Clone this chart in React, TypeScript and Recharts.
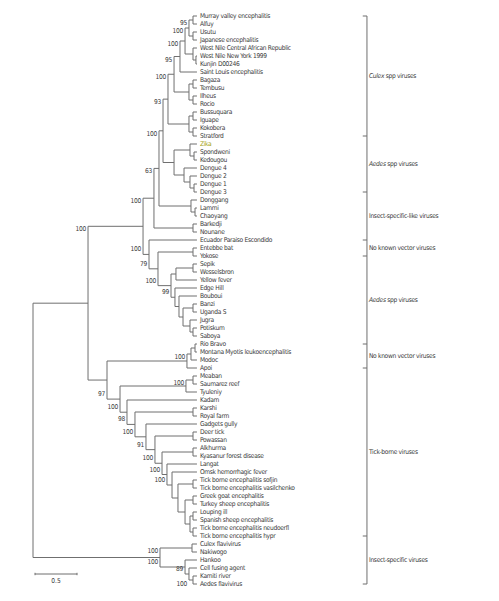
import { ComposedChart, XAxis, YAxis, ReferenceLine, Scatter } from 'recharts'

// leaf order, top to bottom
const leaves = [
  'Murray valley encephalitis', 'Alfuy', 'Usutu', 'Japanese encephalitis',
  'West Nile Central African Republic', 'West Nile New York 1999', 'Kunjin D00246',
  'Saint Louis encephalitis', 'Bagaza', 'Tembusu', 'Ilheus', 'Rocio', 'Bussuquara',
  'Iguape', 'Kokobera', 'Stratford', 'Zika', 'Spondweni', 'Kedougou', 'Dengue 4',
  'Dengue 2', 'Dengue 1', 'Dengue 3', 'Donggang', 'Lammi', 'Chaoyang', 'Barkedji',
  'Nounane', 'Ecuador Paraiso Escondido', 'Entebbe bat', 'Yokose', 'Sepik',
  'Wesselsbron', 'Yellow fever', 'Edge Hill', 'Bouboui', 'Banzi', 'Uganda S', 'Jugra',
  'Potiskum', 'Saboya', 'Rio Bravo', 'Montana Myotis leukoencephalitis', 'Modoc', 'Apoi',
  'Meaban', 'Saumarez reef', 'Tyuleniy', 'Kadam', 'Karshi', 'Royal farm', 'Gadgets gully',
  'Deer tick', 'Powassan', 'Alkhurma', 'Kyasanur forest disease', 'Langat',
  'Omsk hemorrhagic fever', 'Tick borne encephalitis sofjin',
  'Tick borne encephalitis vasilchenko', 'Greek goat encephalitis',
  'Turkey sheep encephalitis', 'Louping ill', 'Spanish sheep encephalitis',
  'Tick borne encephalitis neudoerfl', 'Tick borne encephalitis hypr', 'Culex flavivirus',
  'Nakiwogo', 'Hankoo', 'Cell fusing agent', 'Kamiti river', 'Aedes flavivirus',
]

// distance of the leaf tips from the root
const tipDepth = 1.952

// clade id, upper child, lower child, distance from root, bootstrap support
const clades: [string, string, string, number, number | null][] = [
  ['mva', 'Murray valley encephalitis', 'Alfuy', 1.905, 95],
  ['uje', 'Usutu', 'Japanese encephalitis', 1.905, null],
  ['je', 'mva', 'uje', 1.857, 100],
  ['wn1', 'West Nile New York 1999', 'Kunjin D00246', 1.94, null],
  ['wn', 'West Nile Central African Republic', 'wn1', 1.905, null],
  ['jewn', 'je', 'wn', 1.81, 100],
  ['jes', 'jewn', 'Saint Louis encephalitis', 1.75, 95],
  ['bt', 'Bagaza', 'Tembusu', 1.905, null],
  ['ir', 'Ilheus', 'Rocio', 1.905, null],
  ['ntaya', 'bt', 'ir', 1.857, null],
  ['cx1', 'jes', 'ntaya', 1.679, 100],
  ['bi', 'Bussuquara', 'Iguape', 1.905, null],
  ['ks', 'Kokobera', 'Stratford', 1.905, null],
  ['koko', 'bi', 'ks', 1.857, null],
  ['culex', 'cx1', 'koko', 1.607, 93],
  ['sk', 'Spondweni', 'Kedougou', 1.917, null],
  ['zika', 'Zika', 'sk', 1.869, null],
  ['d13', 'Dengue 1', 'Dengue 3', 1.917, null],
  ['d213', 'Dengue 2', 'd13', 1.869, null],
  ['den', 'Dengue 4', 'd213', 1.798, null],
  ['aedes', 'zika', 'den', 1.679, null],
  ['mosq', 'culex', 'aedes', 1.548, 100],
  ['lc', 'Lammi', 'Chaoyang', 1.929, null],
  ['isl', 'Donggang', 'lc', 1.881, null],
  ['mosq2', 'mosq', 'isl', 1.5, 63],
  ['bn', 'Barkedji', 'Nounane', 1.905, null],
  ['mosq3', 'mosq2', 'bn', 1.44, 100],
  ['ey', 'Entebbe bat', 'Yokose', 1.905, null],
  ['sw', 'Sepik', 'Wesselsbron', 1.905, null],
  ['yf', 'sw', 'Yellow fever', 1.702, null],
  ['bu', 'Banzi', 'Uganda S', 1.905, null],
  ['ps', 'Potiskum', 'Saboya', 1.905, null],
  ['jps', 'Jugra', 'ps', 1.869, null],
  ['buj', 'bu', 'jps', 1.786, null],
  ['bbu', 'Bouboui', 'buj', 1.738, null],
  ['edge', 'Edge Hill', 'bbu', 1.69, 99],
  ['yfg', 'yf', 'edge', 1.643, 100],
  ['eyyf', 'ey', 'yfg', 1.488, 79],
  ['nkv', 'Ecuador Paraiso Escondido', 'eyyf', 1.381, 100],
  ['mbv', 'mosq3', 'nkv', 1.31, 100],
  ['rm', 'Rio Bravo', 'Montana Myotis leukoencephalitis', 1.929, null],
  ['rmm', 'rm', 'Modoc', 1.881, 100],
  ['nkv2', 'rmm', 'Apoi', 1.833, null],
  ['ms', 'Meaban', 'Saumarez reef', 1.905, 100],
  ['mst', 'ms', 'Tyuleniy', 1.821, null],
  ['kr', 'Karshi', 'Royal farm', 1.905, null],
  ['dp', 'Deer tick', 'Powassan', 1.905, null],
  ['ak', 'Alkhurma', 'Kyasanur forest disease', 1.905, null],
  ['tbe1', 'Tick borne encephalitis sofjin', 'Tick borne encephalitis vasilchenko', 1.905, null],
  ['gt', 'Greek goat encephalitis', 'Turkey sheep encephalitis', 1.905, null],
  ['ls', 'Louping ill', 'Spanish sheep encephalitis', 1.905, null],
  ['nh', 'Tick borne encephalitis neudoerfl', 'Tick borne encephalitis hypr', 1.905, null],
  ['lsnh', 'ls', 'nh', 1.869, null],
  ['gtl', 'gt', 'lsnh', 1.81, null],
  ['tbe', 'tbe1', 'gtl', 1.726, null],
  ['omsk', 'Omsk hemorrhagic fever', 'tbe', 1.655, 100],
  ['lgt', 'Langat', 'omsk', 1.595, 100],
  ['kfd', 'ak', 'lgt', 1.536, 100],
  ['pow', 'dp', 'kfd', 1.452, 91],
  ['gg', 'Gadgets gully', 'pow', 1.345, 100],
  ['krg', 'kr', 'gg', 1.214, 98],
  ['kad', 'Kadam', 'krg', 1.119, 100],
  ['tick', 'mst', 'kad', 1.036, 97],
  ['nkt', 'nkv2', 'tick', 0.881, null],
  ['vec', 'mbv', 'nkt', 0.655, null],
  ['cn', 'Culex flavivirus', 'Nakiwogo', 1.893, 100],
  ['ka', 'Kamiti river', 'Aedes flavivirus', 1.905, 100],
  ['cka', 'Cell fusing agent', 'ka', 1.857, 89],
  ['hc', 'Hankoo', 'cka', 1.81, 100],
  ['isv', 'cn', 'hc', 1.512, null],
  ['root', 'vec', 'isv', 0, null],
]

// vector groups on the right, and the leaves where their bracket breaks
const groupNames = [
  'Culex spp viruses', 'Aedes spp viruses', 'Insect-specific-like viruses',
  'No known vector viruses', 'Aedes spp viruses', 'No known vector viruses',
  'Tick-borne viruses', 'Insect-specific viruses',
]
const groupEdges = [
  'Murray valley encephalitis', 'Stratford', 'Dengue 3', 'Ecuador Paraiso Escondido',
  'Yokose', 'Rio Bravo', 'Apoi', 'Tick borne encephalitis hypr', 'Aedes flavivirus',
]
const italicWords = ['Culex', 'Aedes']
const highlighted = ['Zika']

const scaleLength = 0.5

const LINE = '#6f6f6f'
const TEXT = '#3a3a3a'
const FONT = '"Liberation Sans Narrow", "DejaVu Sans Condensed", Arial, sans-serif'
const FS = 6.6
const LS = -0.3
const BRACKET_X = 3.976

const cladeMap = new Map(clades.map((c) => [c[0], c]))
const leafIdx = new Map(leaves.map((n, i) => [n, i]))

const posCache = new Map<string, { x: number; y: number }>()
function pos(id: string): { x: number; y: number } {
  if (posCache.has(id)) return posCache.get(id)!
  let p
  if (leafIdx.has(id)) {
    p = { x: tipDepth, y: leafIdx.get(id)! }
  } else {
    const c = cladeMap.get(id)!
    p = { x: c[3], y: (pos(c[1]).y + pos(c[2]).y) / 2 }
  }
  posCache.set(id, p)
  return p
}

type Seg = { x1: number; y1: number; x2: number; y2: number }
const branches: Seg[] = []
const supportLabels: { x: number; y: number; v: number; dy: number }[] = []
clades.forEach(([id, a, b, depth]) => {
  const pa = pos(a)
  const pb = pos(b)
  branches.push({ x1: depth, y1: pa.y, x2: depth, y2: pb.y })
  branches.push({ x1: depth, y1: pa.y, x2: pa.x, y2: pa.y })
  branches.push({ x1: depth, y1: pb.y, x2: pb.x, y2: pb.y })
  ;[a, b].forEach((k, i) => {
    const c = cladeMap.get(k)
    if (c && c[4] != null) supportLabels.push({ x: depth, y: pos(k).y, v: c[4], dy: i === 0 ? 3 : -5 })
  })
})

// push a support value under its branch when it would sit on the one above
supportLabels.sort((p, q) => p.y - q.y)
supportLabels.forEach((l, i) => {
  const prev = supportLabels[i - 1]
  if (!prev) return
  const gapY = (l.y - prev.y) * 8 + l.dy - prev.dy
  const gapX = Math.abs(l.x - prev.x) * 84
  if (gapY < 7 && gapX < 10) l.dy = 4
})

const leafPoints = leaves.map((name, i) => ({ x: tipDepth, y: i, name }))

const groupPoints = groupNames.map((name, i) => ({
  x: BRACKET_X,
  y: (leafIdx.get(groupEdges[i])! + leafIdx.get(groupEdges[i + 1])!) / 2,
  name,
}))

const scaleY = 69.75
const scaleX0 = 0.024

function LeafLabel(props: any) {
  const { cx, cy, payload } = props
  return (
    <text x={cx + 3} y={cy} dominantBaseline="central" fontSize={FS} fontFamily={FONT}
      letterSpacing={LS} fill={highlighted.includes(payload.name) ? '#a3a318' : TEXT}>
      {payload.name}
    </text>
  )
}

function SupportLabel(props: any) {
  const { cx, cy, payload } = props
  return (
    <text x={cx - 2} y={cy + payload.dy} textAnchor="end" dominantBaseline="central"
      fontSize={FS} fontFamily={FONT} letterSpacing={LS} fill={TEXT}>
      {payload.v}
    </text>
  )
}

function GroupLabel(props: any) {
  const { cx, cy, payload } = props
  const [first, ...rest] = payload.name.split(' ')
  const ital = italicWords.includes(first)
  return (
    <text x={cx + 2} y={cy} dominantBaseline="central" fontSize={FS} fontFamily={FONT}
      letterSpacing={LS} fill={TEXT}>
      <tspan fontStyle={ital ? 'italic' : 'normal'}>{first}</tspan>
      {' ' + rest.join(' ')}
    </text>
  )
}

export default function App() {
  const edgeYs = groupEdges.map((n) => leafIdx.get(n)!)
  return (
    <div style={{ position: 'absolute', left: 0, top: 0, background: '#fff' }}>
      <ComposedChart width={499} height={601} margin={{ top: 0, right: 0, bottom: 0, left: 0 }}>
        <XAxis type="number" dataKey="x" domain={[-0.393, 5.548]} hide allowDataOverflow />
        <YAxis type="number" dataKey="y" domain={[-2, 73.125]} reversed hide allowDataOverflow />
        {branches.map((s, i) => (
          <ReferenceLine key={'b' + i} segment={[{ x: s.x1, y: s.y1 }, { x: s.x2, y: s.y2 }]}
            stroke={LINE} strokeWidth={1} ifOverflow="visible" />
        ))}
        <ReferenceLine segment={[{ x: BRACKET_X, y: edgeYs[0] }, { x: BRACKET_X, y: edgeYs[edgeYs.length - 1] }]}
          stroke={LINE} strokeWidth={1} ifOverflow="visible" />
        {edgeYs.map((y, i) => (
          <ReferenceLine key={'t' + i} segment={[{ x: BRACKET_X - 0.05, y }, { x: BRACKET_X, y }]}
            stroke={LINE} strokeWidth={1} ifOverflow="visible" />
        ))}
        <ReferenceLine segment={[{ x: scaleX0, y: scaleY }, { x: scaleX0 + scaleLength, y: scaleY }]}
          stroke={LINE} strokeWidth={1} ifOverflow="visible" />
        {[scaleX0, scaleX0 + scaleLength].map((x, i) => (
          <ReferenceLine key={'s' + i} segment={[{ x, y: scaleY - 0.15 }, { x, y: scaleY + 0.15 }]}
            stroke={LINE} strokeWidth={1} ifOverflow="visible" />
        ))}
        <Scatter data={leafPoints} shape={LeafLabel} isAnimationActive={false} />
        <Scatter data={supportLabels} shape={SupportLabel} isAnimationActive={false} />
        <Scatter data={groupPoints} shape={GroupLabel} isAnimationActive={false} />
        <Scatter data={[{ x: scaleX0 + scaleLength / 2, y: scaleY + 0.9, v: String(scaleLength) }]}
          shape={(p: any) => (
            <text x={p.cx} y={p.cy} textAnchor="middle" dominantBaseline="central" fontSize={FS}
              fontFamily={FONT} fill={TEXT}>{p.payload.v}</text>
          )}
          isAnimationActive={false} />
      </ComposedChart>
    </div>
  )
}
